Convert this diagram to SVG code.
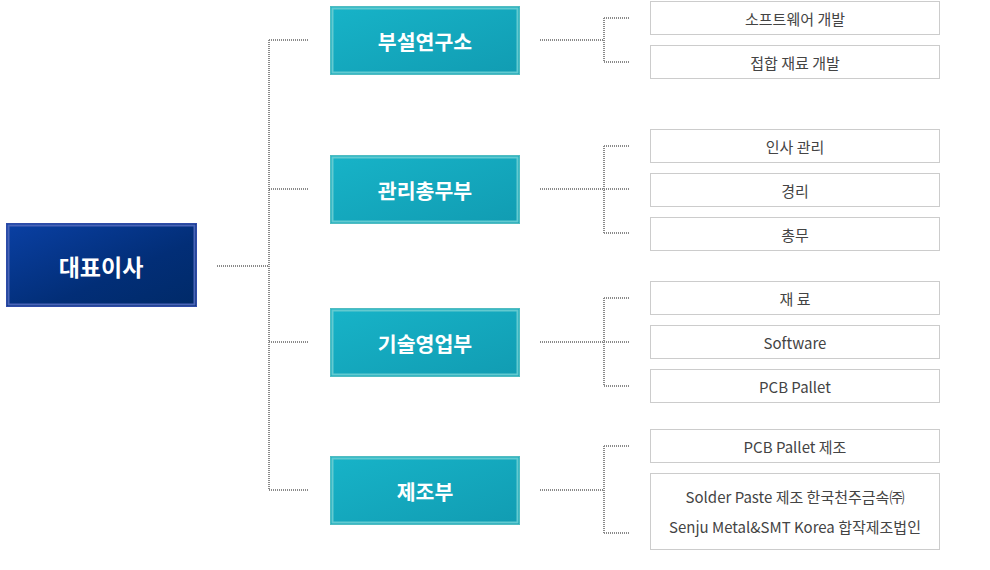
<svg xmlns="http://www.w3.org/2000/svg" width="990" height="570" viewBox="0 0 990 570">
<defs>
<linearGradient id="gCeo" x1="0" y1="0" x2="1" y2="1">
<stop offset="0" stop-color="#0a40a4"/>
<stop offset="0.6" stop-color="#022e77"/>
<stop offset="1" stop-color="#002a68"/>
</linearGradient>
<linearGradient id="gDept" x1="0" y1="0" x2="1" y2="1">
<stop offset="0" stop-color="#17b3c8"/>
<stop offset="1" stop-color="#119cb2"/>
</linearGradient>
<style>
.ceo{fill:url(#gCeo);stroke:#2e4aa8;stroke-width:1}
.ceoIn{fill:none;stroke:#4a64b8;stroke-width:2}
.dept{fill:url(#gDept);stroke:#50bcc0;stroke-width:1}
.deptIn{fill:none;stroke:#62cad0;stroke-width:2}
.item{fill:#fff;stroke:#cccccc;stroke-width:1}
.t{font-family:"Noto Sans CJK KR","Noto Sans",sans-serif;text-anchor:middle;dominant-baseline:central}
.tc{fill:#fff;font-size:23px;font-weight:bold}
.tw{fill:#fff;font-size:20.5px;font-weight:bold}
.ti{fill:#444;font-size:15px}
.c{fill:none;stroke:#8a8a8a;stroke-width:2;stroke-dasharray:1 1}
</style>
</defs>
<g id="connectors">
<path class="c" d="M217 266H269M269 40V490M269 40H308M269 189H308M269 342H308M269 490H308"/>
<path class="c" d="M540 40H604M604 18V62M604 18H629M604 62H629"/>
<path class="c" d="M540 189H629M604 146V233M604 146H629M604 233H629"/>
<path class="c" d="M540 342H629M604 298V386M604 298H629M604 386H629"/>
<path class="c" d="M540 490H604M604 446V533M604 446H629M604 533H629"/>
</g>
<g id="ceo">
<rect class="ceo" x="6.5" y="223.5" width="190" height="83"/>
<rect class="ceoIn" x="8.5" y="225.5" width="186" height="79"/>
<text class="t tc" x="101" y="266">대표이사</text>
</g>
<g id="dept1">
<rect class="dept" x="330.5" y="6.5" width="189" height="68"/>
<rect class="deptIn" x="332.5" y="8.5" width="185" height="64"/>
<text class="t tw" x="425" y="41">부설연구소</text>
</g>
<g id="dept2">
<rect class="dept" x="330.5" y="155.5" width="189" height="68"/>
<rect class="deptIn" x="332.5" y="157.5" width="185" height="64"/>
<text class="t tw" x="425" y="190">관리총무부</text>
</g>
<g id="dept3">
<rect class="dept" x="330.5" y="308.5" width="189" height="68"/>
<rect class="deptIn" x="332.5" y="310.5" width="185" height="64"/>
<text class="t tw" x="425" y="343">기술영업부</text>
</g>
<g id="dept4">
<rect class="dept" x="330.5" y="456.5" width="189" height="68"/>
<rect class="deptIn" x="332.5" y="458.5" width="185" height="64"/>
<text class="t tw" x="425" y="491">제조부</text>
</g>
<g id="item1"><rect class="item" x="650.5" y="1.5" width="289" height="33"/><text class="t ti" x="795" y="18">소프트웨어 개발</text></g>
<g id="item2"><rect class="item" x="650.5" y="45.5" width="289" height="33"/><text class="t ti" x="795" y="62">접합 재료 개발</text></g>
<g id="item3"><rect class="item" x="650.5" y="129.5" width="289" height="33"/><text class="t ti" x="795" y="146">인사 관리</text></g>
<g id="item4"><rect class="item" x="650.5" y="173.5" width="289" height="33"/><text class="t ti" x="795" y="190">경리</text></g>
<g id="item5"><rect class="item" x="650.5" y="217.5" width="289" height="33"/><text class="t ti" x="795" y="234">총무</text></g>
<g id="item6"><rect class="item" x="650.5" y="281.5" width="289" height="33"/><text class="t ti" x="795" y="298">재 료</text></g>
<g id="item7"><rect class="item" x="650.5" y="325.5" width="289" height="33"/><text class="t ti" x="795" y="342">Software</text></g>
<g id="item8"><rect class="item" x="650.5" y="369.5" width="289" height="33"/><text class="t ti" x="795" y="386">PCB Pallet</text></g>
<g id="item9"><rect class="item" x="650.5" y="429.5" width="289" height="33"/><text class="t ti" x="795" y="446">PCB Pallet 제조</text></g>
<g id="item10"><rect class="item" x="650.5" y="473.5" width="289" height="76"/>
<text class="t ti" x="795" y="496">Solder Paste 제조 한국천주금속㈜</text>
<text class="t ti" x="795" y="526">Senju Metal&amp;SMT Korea 합작제조법인</text></g>
</svg>
